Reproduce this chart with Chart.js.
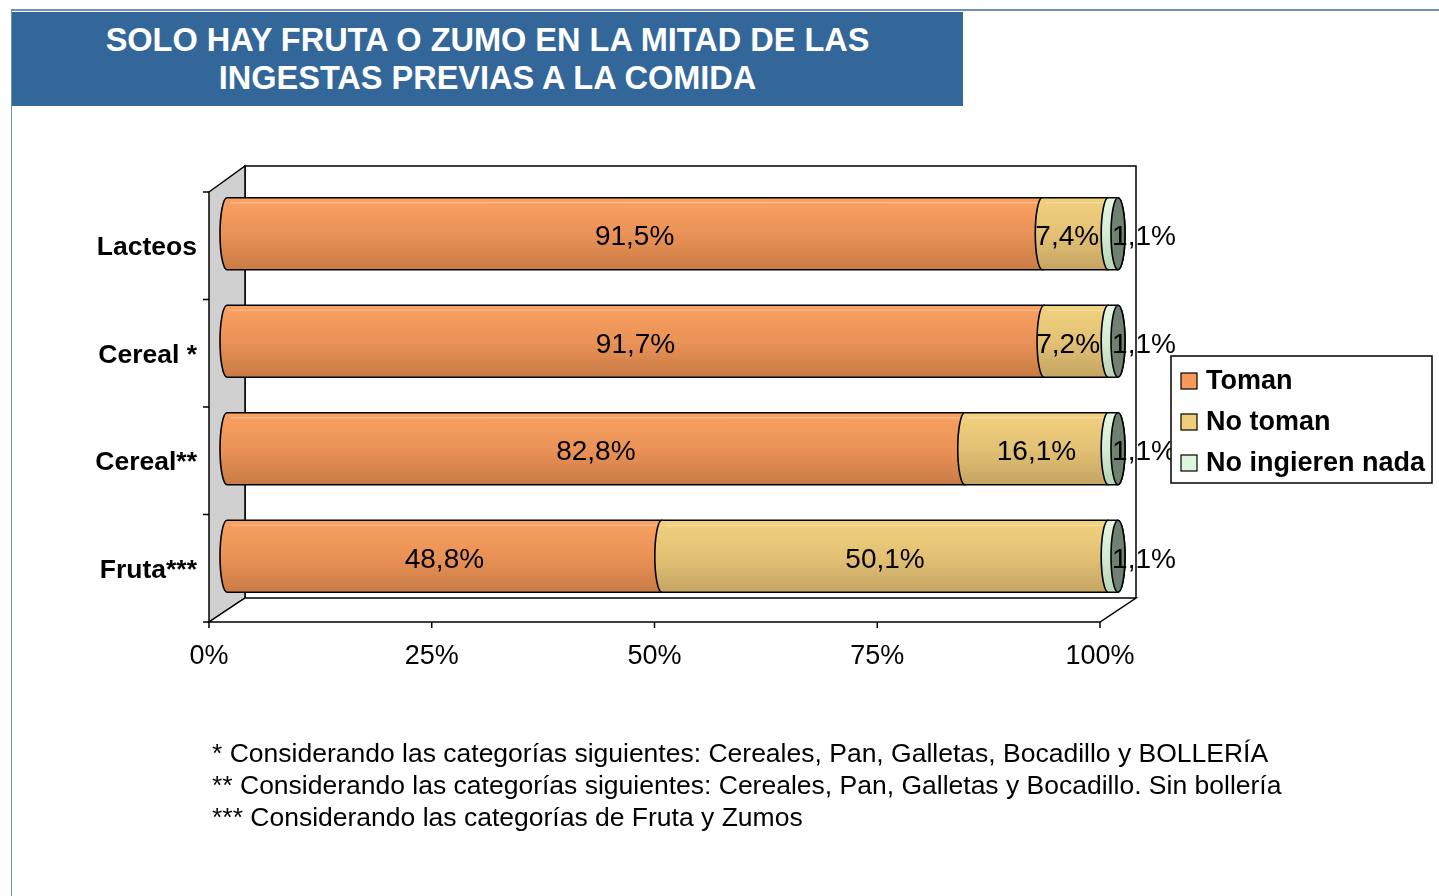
<!DOCTYPE html>
<html>
<head>
<meta charset="utf-8">
<script src="https://cdn.jsdelivr.net/npm/chart.js@4.4.1/dist/chart.umd.min.js"></script>
<style>
    body { margin: 0; background: #fff; font-family: "Liberation Sans", Arial, sans-serif; }
    #wrap { position: relative; width: 1439px; height: 896px; overflow: hidden; }
    #chart { position: absolute; left: 0; top: 0; }
    #topline { position: absolute; left: 12px; top: 9px; width: 1427px; height: 2px; background: #6f8fb6; }
    #leftline { position: absolute; left: 11px; top: 9px; width: 1px; height: 887px; background: #6f8fb6; }
    #title {
        position: absolute; left: 12px; top: 12px; width: 951px; height: 94px;
        background: #346799; color: #fff; font-weight: bold; font-size: 32.5px;
        line-height: 38px; text-align: center; display: flex; align-items: center; justify-content: center;
    }
    #notes { position: absolute; left: 212px; top: 737px; font-size: 26.5px; line-height: 32px; color: #000; white-space: nowrap; }
</style>
</head>
<body>
<div id="wrap">
    <canvas id="chart" width="1439" height="896"></canvas>
    <div id="topline"></div>
    <div id="leftline"></div>
    <div id="title">SOLO HAY FRUTA O ZUMO EN LA MITAD DE LAS<br>INGESTAS PREVIAS A LA COMIDA</div>
    <div id="notes">
        * Considerando las categorías siguientes: Cereales, Pan, Galletas, Bocadillo y BOLLERÍA<br>
        ** Considerando las categorías siguientes: Cereales, Pan, Galletas y Bocadillo. Sin bollería<br>
        *** Considerando las categorías de Fruta y Zumos
    </div>
</div>
<script>
// datos
const categories = ["Lacteos", "Cereal *", "Cereal**", "Fruta***"];
const toman = [91.5, 91.7, 82.8, 48.8];
const noToman = [7.4, 7.2, 16.1, 50.1];
const noIngieren = [1.1, 1.1, 1.1, 1.1];
const xTicks = [0, 25, 50, 75, 100];
const seriesNames = ["Toman", "No toman", "No ingieren nada"];

// colores de cada serie (arriba, medio, abajo) y del cuadro de la leyenda
const shades = [
    ["#f9a262", "#ea9257", "#c97b45"],
    ["#f2d27f", "#e3c175", "#c4a462"],
    ["#e6f8e6", "#d3ecd3", "#b9d4b9"]
];
const legendColors = ["#f79a5a", "#f0cd78", "#ddf7dd"];
const capColor = "#6f8272";

const DX = 18, DY = 12; // profundidad 3D
const FONT = '"Liberation Sans", Arial, sans-serif';

function fmt(v) {
    return v.toFixed(1).replace(".", ",") + "%";
}

function cylPath(ctx, x0, x1, top, bot, rx) {
    const cy = (top + bot) / 2, ry = (bot - top) / 2;
    ctx.beginPath();
    ctx.moveTo(x0, top);
    ctx.lineTo(x1, top);
    ctx.ellipse(x1, cy, rx, ry, 0, -Math.PI / 2, Math.PI / 2, false);
    ctx.lineTo(x0, bot);
    ctx.ellipse(x0, cy, rx, ry, 0, Math.PI / 2, Math.PI * 1.5, false);
    ctx.closePath();
}

// paredes, suelo, ejes y etiquetas
const walls = {
    id: "walls",
    beforeDatasetsDraw(chart) {
        const ctx = chart.ctx;
        const a = chart.chartArea;
        const xs = chart.scales.x, ys = chart.scales.y;
        ctx.save();
        ctx.lineWidth = 1.5;
        ctx.strokeStyle = "#000";

        // pared del fondo
        ctx.fillStyle = "#fff";
        ctx.beginPath();
        ctx.moveTo(a.left + DX, a.bottom - DY);
        ctx.lineTo(a.left + DX, a.top - DY - 2);
        ctx.lineTo(a.right + DX, a.top - DY - 2);
        ctx.lineTo(a.right + DX, a.bottom - DY);
        ctx.fill();
        ctx.stroke();

        // pared izquierda
        ctx.fillStyle = "#d0d0d0";
        ctx.beginPath();
        ctx.moveTo(a.left - DX, a.top + DY);
        ctx.lineTo(a.left + DX, a.top - DY - 2);
        ctx.lineTo(a.left + DX, a.bottom - DY);
        ctx.lineTo(a.left - DX, a.bottom + DY);
        ctx.closePath();
        ctx.fill();
        ctx.stroke();

        // suelo
        ctx.fillStyle = "#fff";
        ctx.beginPath();
        ctx.moveTo(a.left - DX, a.bottom + DY);
        ctx.lineTo(a.right - DX, a.bottom + DY);
        ctx.lineTo(a.right + DX, a.bottom - DY);
        ctx.lineTo(a.left + DX, a.bottom - DY);
        ctx.closePath();
        ctx.fill();
        ctx.stroke();

        // marcas del eje X y textos
        ctx.fillStyle = "#000";
        ctx.font = "27px " + FONT;
        ctx.textAlign = "center";
        ctx.textBaseline = "middle";
        xTicks.forEach(function (v) {
            const px = xs.getPixelForValue(v) - DX;
            ctx.beginPath();
            ctx.moveTo(px, a.bottom + DY);
            ctx.lineTo(px, a.bottom + DY + 6);
            ctx.stroke();
            ctx.fillText(v + "%", px, a.bottom + DY + 35);
        });

        // marcas del eje Y (limites de categoria)
        const band = (a.bottom - a.top) / categories.length;
        for (let i = 0; i <= categories.length; i++) {
            const py = a.top + DY + band * i;
            ctx.beginPath();
            ctx.moveTo(a.left - DX - 6, py);
            ctx.lineTo(a.left - DX, py);
            ctx.stroke();
        }

        ctx.font = "bold 26.5px " + FONT;
        ctx.textAlign = "right";
        categories.forEach(function (c, i) {
            ctx.fillText(c, a.left - DX - 12, ys.getPixelForValue(i) + DY + 2);
        });
        ctx.restore();
    },
    afterDatasetsDraw(chart) {
        const ctx = chart.ctx;
        const n = chart.data.datasets.length;
        ctx.save();
        ctx.lineWidth = 1.6;
        ctx.strokeStyle = "#000";

        categories.forEach(function (c, i) {
            let last = null;
            for (let d = 0; d < n; d++) {
                const el = chart.getDatasetMeta(d).data[i];
                const p = el.getProps(["x", "y", "base", "height"], true);
                const top = p.y - p.height / 2, bot = p.y + p.height / 2;
                const g = ctx.createLinearGradient(0, top, 0, bot);
                g.addColorStop(0, shades[d][0]);
                g.addColorStop(0.5, shades[d][1]);
                g.addColorStop(1, shades[d][2]);
                cylPath(ctx, p.base, p.x, top, bot, 7);
                ctx.fillStyle = g;
                ctx.fill();
                ctx.stroke();
                // brillo fino
                ctx.save();
                ctx.strokeStyle = "rgba(255,255,255,0.35)";
                ctx.lineWidth = 1;
                ctx.beginPath();
                ctx.moveTo(p.base + 4, top + 5);
                ctx.lineTo(p.x, top + 5);
                ctx.stroke();
                ctx.restore();
                last = p;
            }
            // tapa final
            const top = last.y - last.height / 2, bot = last.y + last.height / 2;
            ctx.beginPath();
            ctx.ellipse(last.x, last.y, 7, (bot - top) / 2, 0, 0, Math.PI * 2);
            ctx.fillStyle = capColor;
            ctx.fill();
            ctx.stroke();
        });

        // etiquetas de datos
        ctx.fillStyle = "#000";
        ctx.font = "28px " + FONT;
        ctx.textAlign = "center";
        ctx.textBaseline = "middle";
        for (let d = 0; d < n; d++) {
            const meta = chart.getDatasetMeta(d);
            const vals = chart.data.datasets[d].data;
            meta.data.forEach(function (el, i) {
                const p = el.getProps(["x", "y", "base"], true);
                let cx = (p.base + p.x) / 2;
                if (d === n - 1) cx = p.x + 26;
                else if (p.x - p.base < 80) cx -= 8;
                ctx.fillText(fmt(vals[i]), cx, p.y + 4);
            });
        }

        // leyenda
        const lx = 1171, ly = 356, lw = 261, lh = 127;
        ctx.fillStyle = "#fff";
        ctx.fillRect(lx, ly, lw, lh);
        ctx.lineWidth = 1.5;
        ctx.strokeRect(lx, ly, lw, lh);
        ctx.font = "bold 27px " + FONT;
        ctx.textAlign = "left";
        seriesNames.forEach(function (name, k) {
            const cy = ly + 25 + k * 41;
            ctx.fillStyle = legendColors[k];
            ctx.fillRect(lx + 10, cy - 8, 16, 16);
            ctx.strokeStyle = "#000";
            ctx.lineWidth = 1.2;
            ctx.strokeRect(lx + 10, cy - 8, 16, 16);
            ctx.fillStyle = "#000";
            ctx.fillText(name, lx + 35, cy + 1);
        });
        ctx.restore();
    }
};

const series = [toman, noToman, noIngieren];

new Chart(document.getElementById("chart"), {
    type: "bar",
    data: {
        labels: categories,
        datasets: series.map(function (vals, k) {
            return {
                label: seriesNames[k],
                data: vals,
                backgroundColor: "rgba(0,0,0,0)",
                borderWidth: 0,
                categoryPercentage: 1,
                barPercentage: 0.67
            };
        })
    },
    options: {
        indexAxis: "y",
        responsive: false,
        animation: false,
        layout: { padding: { left: 227, right: 321, top: 180, bottom: 286 } },
        plugins: { legend: { display: false }, tooltip: { enabled: false } },
        scales: {
            x: { stacked: true, min: 0, max: 100, display: false },
            y: { stacked: true, display: false }
        }
    },
    plugins: [walls]
});
</script>
</body>
</html>
